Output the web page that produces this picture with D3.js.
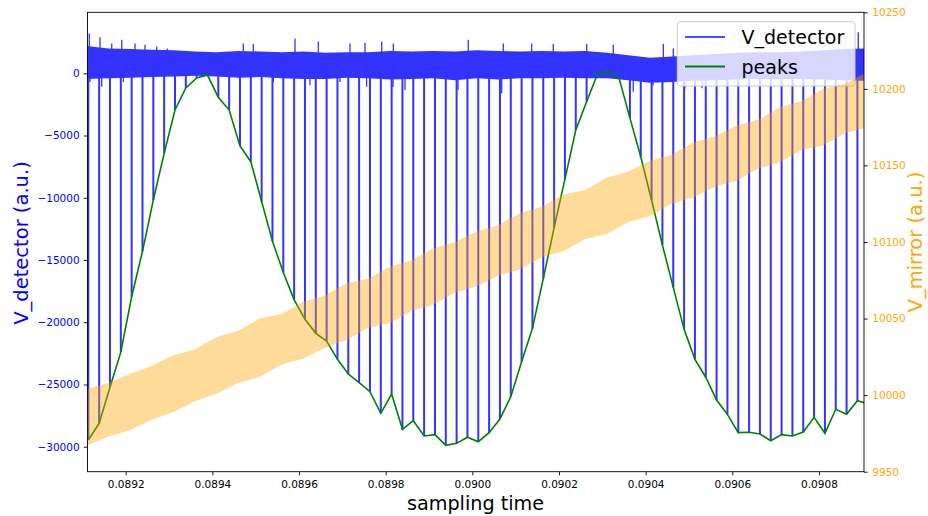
<!DOCTYPE html>
<html><head><meta charset="utf-8">
<script src="https://cdn.jsdelivr.net/npm/d3@7"></script>
<style>body{margin:0;background:#fff}svg text{font-family:"DejaVu Sans",sans-serif}</style>
</head><body><svg id="c" width="928" height="516"></svg>
<script>
// ---- data ----
const xTicks = [0.0892, 0.0894, 0.0896, 0.0898, 0.0900, 0.0902, 0.0904, 0.0906, 0.0908];
const leftTicks = [0, -5000, -10000, -15000, -20000, -25000, -30000];
const rightTicks = [9950, 10000, 10050, 10100, 10150, 10200, 10250];

// detector dips (time of each dip, and the detected peak value)
const dipT = [0.0891137,0.0891387,0.0891637,0.0891887,0.0892137,0.0892387,0.0892637,0.0892887,0.0893137,0.0893387,
  0.0893637,0.0893887,0.0894137,0.0894387,0.0894637,0.0894887,0.0895137,0.0895387,0.0895637,0.0895887,
  0.0896137,0.0896387,0.0896637,0.0896887,0.0897137,0.0897387,0.0897637,0.0897887,0.0898137,0.0898387,
  0.0898637,0.0898887,0.0899137,0.0899387,0.0899637,0.0899887,0.0900137,0.0900387,0.0900637,0.0900887,
  0.0901137,0.0901387,0.0901637,0.0901887,0.0902137,0.0902387,0.0902637,0.0902887,0.0903137,0.0903387,
  0.0903637,0.0903887,0.0904137,0.0904387,0.0904637,0.0904887,0.0905137,0.0905387,0.0905637,0.0905887,
  0.0906137,0.0906387,0.0906637,0.0906887,0.0907137,0.0907387,0.0907637,0.0907887,0.0908137,0.0908387,
  0.0908637,0.0908887,0.0909137];
const peakV = [-29460,-28120,-25230,-22400,-17950,-14300,-10180,-6430,-2950,-1180,
  -380,-140,-1930,-2950,-5840,-7100,-10300,-13500,-16000,-18200,
  -19760,-20890,-21510,-22980,-24160,-24860,-25580,-27320,-25770,-28600,
  -27910,-29140,-29030,-29890,-29730,-29240,-29600,-28870,-27770,-25980,
  -23170,-20490,-16500,-12400,-8500,-4560,-2280,-80,130,-400,
  -3600,-6700,-10200,-13800,-17200,-20570,-22980,-24420,-26250,-27400,
  -28870,-28840,-28980,-29520,-29030,-29140,-28820,-27640,-28920,-26990,
  -27400,-26300,-26550];

// detector noise band (envelope of the dense trace)
const bandT = [0.08911,0.08916,0.08921,0.08926,0.08931,0.08936,0.08941,0.08946,0.08951,0.08956,
  0.08961,0.08966,0.08971,0.08976,0.08981,0.08986,0.08991,0.08996,0.09001,0.09006,
  0.09011,0.09016,0.09021,0.09026,0.09031,0.09036,0.09041,0.09046,0.09051,0.09056,
  0.09061,0.09066,0.09071,0.09076,0.09081,0.09086,0.09091];
const bandHi = [2200,2000,1950,1900,1850,1750,1700,1800,1750,1700,
  1750,1650,1700,1700,1800,1750,1800,1750,1850,1800,
  1750,1800,1750,1800,1650,1450,1250,1350,1450,1550,
  1650,1700,1700,1750,1850,1950,2000];
const bandLo = [-450,-400,-350,-300,-250,-200,-250,-350,-300,-400,
  -450,-450,-350,-400,-500,-450,-400,-550,-400,-500,
  -400,-400,-350,-400,-400,-550,-750,-700,-600,-550,
  -500,-450,-450,-450,-500,-550,-600];

// isolated spikes of the detector trace
const spikeT = [0.0891160,0.0891407,0.0891677,0.0891908,0.0892215,0.0892445,0.0892715,0.0892960,0.0894714,0.0894945,
  0.0895907,0.0896445,0.0897176,0.0897522,0.0897908,0.0898176,0.0899906,0.0900714,0.0901370,0.0901868,
  0.0902639,0.0903253,0.0904407,0.0904638,0.0908907,
  0.0891176,0.0891446,0.0891945,0.0895406,0.0896253,0.0896946,0.0897560,0.0898169,0.0898446,0.0899669,
  0.0900677,0.0903714,0.0904169,0.0904900,0.0905300];
const spikeV = [3200,2900,2400,2700,2400,2300,2150,2000,2400,2350,
  2800,2550,2400,2450,2550,2400,2700,2400,2400,2350,
  2350,2300,2350,2000,3300,
  -700,-1075,-700,-700,-950,-700,-1075,-1100,-1350,-1350,
  -1600,-1480,-1000,-1300,-1200];

// mirror voltage band (right axis)
const mirrorT = bandT;
const mirrorHi = [10004,10008,10014,10019,10026,10030,10038,10042,10050,10053,
  10061,10065,10073,10076,10084,10088,10096,10100,10107,10111,
  10119,10123,10131,10134,10142,10146,10153,10157,10165,10169,
  10176,10180,10188,10192,10200,10203,10211];
const mirrorLo = [9967,9973,9977,9984,9989,9996,10001,10008,10012,10020,
  10024,10031,10036,10044,10047,10055,10059,10067,10071,10078,
  10082,10090,10094,10102,10105,10113,10117,10125,10129,10136,
  10140,10148,10152,10160,10163,10171,10175];

// ---- drawing ----
const svg = d3.select('#c');
const L = 87.5, R = 864, T = 12.3, B = 471.7;
const x = d3.scaleLinear().domain([0.0891118, 0.0909039]).range([L, R]);
const yL = d3.scaleLinear().domain([-32008, 4901]).range([B, T]);
const yR = d3.scaleLinear().domain([9950, 10250]).range([B, T]);
const BLUE = '#3333ff';

svg.append('defs').append('clipPath').attr('id', 'clip')
  .append('rect').attr('x', L).attr('y', T).attr('width', R - L).attr('height', B - T);

const g1 = svg.append('g').attr('clip-path', 'url(#clip)');
const idx = d3.range(bandT.length);
g1.append('path')
  .attr('d', d3.area().x(i => x(bandT[i])).y0(i => yL(bandLo[i])).y1(i => yL(bandHi[i]))(idx))
  .attr('fill', BLUE);
g1.selectAll('line.sp').data(d3.range(spikeT.length)).join('line')
  .attr('x1', i => x(spikeT[i])).attr('x2', i => x(spikeT[i]))
  .attr('y1', yL(700)).attr('y2', i => yL(spikeV[i]))
  .attr('stroke', BLUE).attr('stroke-width', 1.3);
g1.selectAll('line.dip').data(d3.range(dipT.length)).join('line')
  .attr('x1', i => x(dipT[i])).attr('x2', i => x(dipT[i]))
  .attr('y1', yL(900)).attr('y2', i => yL(peakV[i]))
  .attr('stroke', BLUE).attr('stroke-width', 2);
g1.append('path')
  .attr('d', d3.line().x(i => x(dipT[i])).y(i => yL(peakV[i]))(d3.range(dipT.length)))
  .attr('fill', 'none').attr('stroke', 'green').attr('stroke-width', 1.6);

// legend (belongs to the left axes, below the twin axes)
const lg = svg.append('g');
lg.append('rect').attr('x', 677.3).attr('y', 21.7).attr('width', 177.7).attr('height', 64.3)
  .attr('rx', 3).attr('fill', '#fff').attr('fill-opacity', 0.8)
  .attr('stroke', '#cccccc').attr('stroke-width', 1);
lg.append('line').attr('x1', 685).attr('x2', 725).attr('y1', 37).attr('y2', 37)
  .attr('stroke', '#4d4dff').attr('stroke-width', 2);
lg.append('line').attr('x1', 685).attr('x2', 725).attr('y1', 66.5).attr('y2', 66.5)
  .attr('stroke', 'green').attr('stroke-width', 2);
lg.append('text').attr('x', 741.5).attr('y', 44).attr('font-size', 19).attr('fill', '#000').text('V_detector');
lg.append('text').attr('x', 741.5).attr('y', 73.5).attr('font-size', 19).attr('fill', '#000').text('peaks');

// twin axes: mirror voltage
const g2 = svg.append('g').attr('clip-path', 'url(#clip)');
g2.append('path')
  .attr('d', d3.area().x(i => x(mirrorT[i])).y0(i => yR(mirrorLo[i])).y1(i => yR(mirrorHi[i]))(idx))
  .attr('fill', 'orange').attr('fill-opacity', 0.4);

// axes
const fmtX = d3.format('.4f');
const ax = svg.append('g').attr('transform', `translate(0,${B})`)
  .call(d3.axisBottom(x).tickValues(xTicks).tickFormat(fmtX).tickSize(3.7).tickPadding(5.4));
const al = svg.append('g').attr('transform', `translate(${L},0)`)
  .call(d3.axisLeft(yL).tickValues(leftTicks).tickFormat(d3.format('d')).tickSize(3.7).tickPadding(4.2));
const ar = svg.append('g').attr('transform', `translate(${R},0)`)
  .call(d3.axisRight(yR).tickValues(rightTicks).tickFormat(d3.format('d')).tickSize(3.7).tickPadding(4.6));
[ax, al, ar].forEach(a => {
  a.select('.domain').remove();
  a.selectAll('text').attr('font-size', 10.5).attr('font-family', '"DejaVu Sans",sans-serif');
  a.selectAll('line').attr('stroke', '#000').attr('stroke-width', 0.9);
});
ax.selectAll('text').attr('fill', '#000');
al.selectAll('text').attr('fill', 'blue');
ar.selectAll('text').attr('fill', 'orange');

// spines
svg.append('rect').attr('x', L).attr('y', T).attr('width', R - L).attr('height', B - T)
  .attr('fill', 'none').attr('stroke', '#000').attr('stroke-width', 0.9);

// axis labels
svg.append('text').attr('x', 475.5).attr('y', 509.5).attr('text-anchor', 'middle')
  .attr('font-size', 19.2).attr('fill', '#000').text('sampling time');
svg.append('text').attr('transform', 'translate(27.5,243) rotate(-90)').attr('text-anchor', 'middle')
  .attr('font-size', 19.5).attr('fill', 'blue').text('V_detector (a.u.)');
svg.append('text').attr('transform', 'translate(922,242) rotate(-90)').attr('text-anchor', 'middle')
  .attr('font-size', 19.5).attr('fill', 'orange').text('V_mirror (a.u.)');
</script></body></html>
